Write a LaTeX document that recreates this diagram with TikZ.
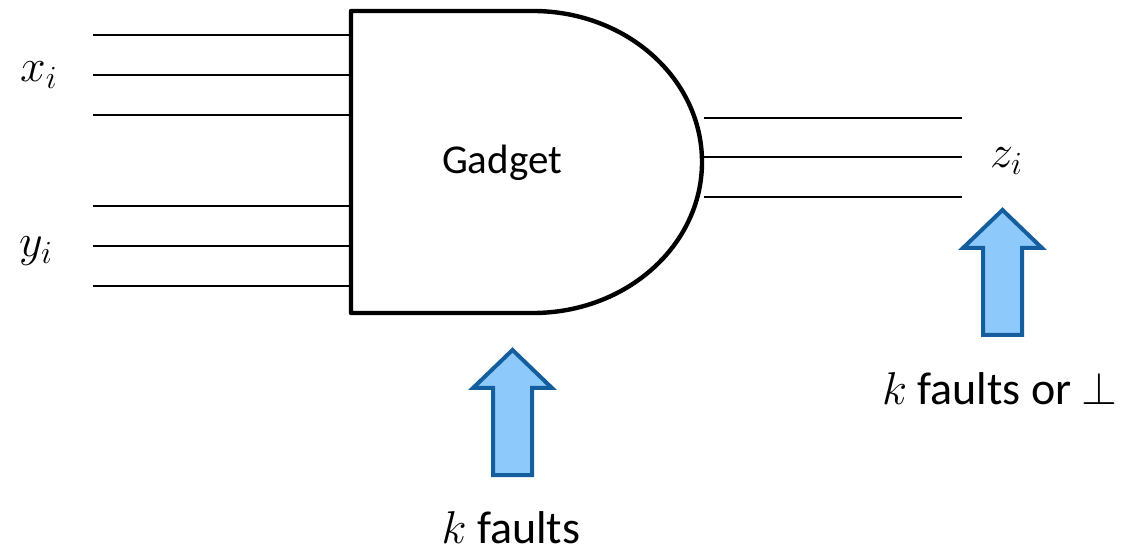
\documentclass[tikz,border=0pt]{standalone}
\usepackage{fix-cm}
\usepackage{fontspec}
\setmainfont{Carlito}
\usepackage{xcolor}
\usepackage{tikz}
\usetikzlibrary{arrows.meta,positioning,calc}
\definecolor{gateink}{HTML}{000000}
\definecolor{faultfill}{HTML}{8DC9FA}
\definecolor{faultline}{HTML}{155E9E}
\tikzset{
  gatebody/.style={
    draw=gateink,
    line width=4.4pt,
    line join=round,
    fill=white
  },
  wire/.style={draw=gateink,line width=1.6pt},
  faultbox/.style={
    draw=faultline,
    line width=4pt,
    fill=faultfill,
    line join=miter
  },
  gatelabel/.style={font=\fontsize{41}{48}\selectfont,inner sep=0pt},
  sigtext/.style={font=\fontsize{46}{54}\selectfont,inner sep=0pt,anchor=base west},
  faulttext/.style={font=\fontsize{46}{54}\selectfont,inner sep=0pt,anchor=base}
}
% up-pointing block arrow: #1 centre x, #2 tip y
\newcommand{\faultarrow}[2]{%
  \draw[faultbox] (#1,#2) -- ++(39.5,38) -- ++(-20,0) -- ++(0,87)
    -- ++(-39,0) -- ++(0,-87) -- ++(-20,0) -- cycle;}

\begin{document}
\begin{tikzpicture}[x=1pt,y=-1pt]
  \useasboundingbox (0,0) rectangle (1128,553);
  % input and output wires
  \foreach \y [count=\i] in {35,75,115,206,246,286} {
    \coordinate (in\i) at (93,\y);
    \coordinate (gin\i) at (351,\y);
    \draw[wire] (in\i) -- (gin\i);
  }
  \foreach \y [count=\i] in {118,157,197} {
    \coordinate (gout\i) at (704,\y);
    \coordinate (out\i) at (962,\y);
    \draw[wire] (gout\i) -- (out\i);
  }
  % the gadget
  \draw[gatebody] (351,11) -- (533,11)
    arc[start angle=-90,end angle=90,x radius=169,y radius=151]
    -- (351,313) -- cycle;
  \node[gatelabel] (gadget) at (502,163) {Gadget};
  \node[sigtext] (xin) at (20,82) {$x_i$};
  \node[sigtext] (yin) at (19,257) {$y_i$};
  \node[sigtext] (zout) at (990,168) {$z_i$};
  % faults
  \faultarrow{512.5}{350}
  \faultarrow{1002.5}{210}
  \node[faulttext] (gfaults) at (511,543) {$k$ faults};
  \node[faulttext] (ofaults) at (1000,405) {$k$ faults or $\perp$};
\end{tikzpicture}
\end{document}
